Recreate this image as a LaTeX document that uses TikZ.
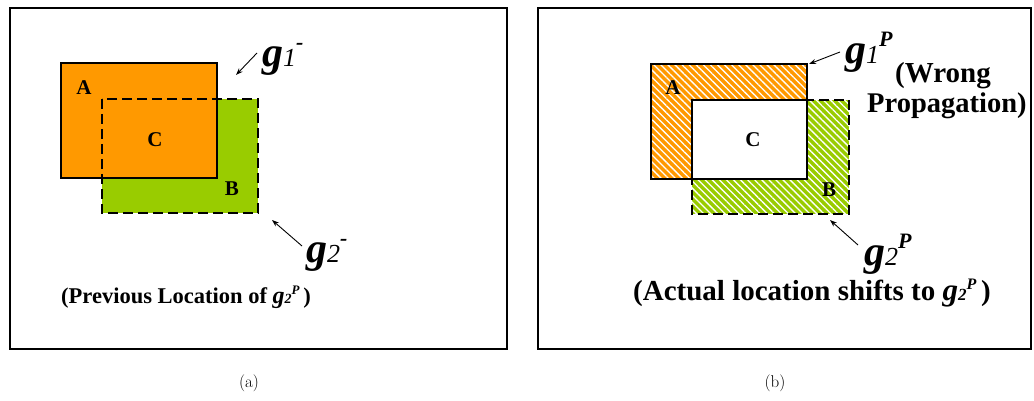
\documentclass[tikz,border=0pt]{standalone}
\usepackage{fontspec}
\newfontfamily\tnr{Liberation Serif}
\usetikzlibrary{patterns.meta,arrows.meta}
\definecolor{org}{RGB}{255,153,0}
\definecolor{grn}{RGB}{153,204,0}
\newcommand{\biggsym}[2]{{\tnr\bfseries\itshape\fontsize{42}{42}\selectfont g}{\tnr\itshape\fontsize{26}{26}\selectfont #1}\raisebox{17pt}{\tnr\bfseries\itshape\fontsize{22}{22}\selectfont #2}}
\newcommand{\smallgsym}{{\tnr\bfseries\itshape\fontsize{24}{24}\selectfont g}{\tnr\itshape\fontsize{14}{14}\selectfont 2}\raisebox{9pt}{\tnr\bfseries\itshape\fontsize{13}{13}\selectfont P}}
\begin{document}
\begin{tikzpicture}[x=1pt,y=-1pt,
  frame/.style={line width=2.6pt,draw=black},
  solidb/.style={draw=black,line width=1.3pt},
  dashb/.style={draw=black,line width=1.8pt,dash pattern=on 10pt off 5pt},
  hatch/.style={pattern={Lines[angle=-45,distance=5pt,line width=1.3pt]},pattern color=white},
  lab/.style={font=\tnr\bfseries\fontsize{21}{21}\selectfont,inner sep=0pt},
  arr/.style={-{Stealth[length=7pt,width=5pt]},line width=0.9pt},
  captxt/.style={font=\fontsize{17}{19}\selectfont,inner sep=0pt},
  txt/.style={inner sep=0pt,anchor=base west}]
\useasboundingbox (0,0) rectangle (1034,401);
% ---------- panel (a) ----------
\draw[frame] (10,8) rectangle (507,349);
\fill[grn] (102,99) rectangle (258,213);
\fill[org] (61,63) rectangle (217,178);
\draw[solidb] (61,63) rectangle (217,178);
\draw[dashb] (102,99) rectangle (258,213);
\node[lab] (la) at (84,88) {A};
\node[lab] (lc) at (155,140) {C};
\node[lab] (lb) at (232,189) {B};
\node[txt] (g1m) at (262,67) {\biggsym{1}{-}};
\node[txt] (g2m) at (306,262) {\biggsym{2}{-}};
\coordinate (a1s) at (257,53); \coordinate (a1e) at (236,75);
\coordinate (a2s) at (302,246); \coordinate (a2e) at (272,220);
\draw[arr] (a1s) -- (a1e);
\draw[arr] (a2s) -- (a2e);
\node[txt,font=\tnr\bfseries\fontsize{22.5}{22.5}\selectfont] (prev) at (61,303) {(Previous Location of \smallgsym\,)};
\node[captxt] (capa) at (249,383) {(a)};
% ---------- panel (b) ----------
\draw[frame] (538,8) rectangle (1031,349);
\fill[org] (651,64) rectangle (807,179);
\fill[hatch] (651,64) rectangle (807,179);
\fill[grn] (692,100) rectangle (849,214);
\fill[hatch] (692,100) rectangle (849,214);
\fill[white] (692,100) rectangle (807,179);
\draw[solidb] (651,64) rectangle (807,179);
\draw[dashb] (692,100) rectangle (849,214);
\draw[solidb] (692,100) rectangle (807,179);
\node[lab] (ra) at (673,88) {A};
\node[lab] (rc) at (753,140) {C};
\node[lab] (rb) at (829,190) {B};
\node[txt] (g1p) at (845,64) {\biggsym{1}{P}};
\node[txt] (g2p) at (864,265) {\biggsym{2}{P}};
\coordinate (b1s) at (840,52); \coordinate (b1e) at (809,64);
\coordinate (b2s) at (858,245); \coordinate (b2e) at (830,220);
\draw[arr] (b1s) -- (b1e);
\draw[arr] (b2s) -- (b2e);
\node[txt,font=\tnr\bfseries\fontsize{29}{29}\selectfont] (wrong) at (895,83) {(Wrong};
\node[txt,font=\tnr\bfseries\fontsize{28.5}{28.5}\selectfont] (prop) at (867,113) {Propagation)};
\node[anchor=base,inner sep=0pt,font=\tnr\bfseries\fontsize{29}{29}\selectfont] (act) at (812,300) {(Actual location shifts to {\tnr\bfseries\itshape\fontsize{31}{31}\selectfont g}{\tnr\itshape\fontsize{17}{17}\selectfont 2}\raisebox{11pt}{\tnr\bfseries\itshape\fontsize{16}{16}\selectfont P}\,)};
\node[captxt] (capb) at (775,383) {(b)};
\end{tikzpicture}
\end{document}
